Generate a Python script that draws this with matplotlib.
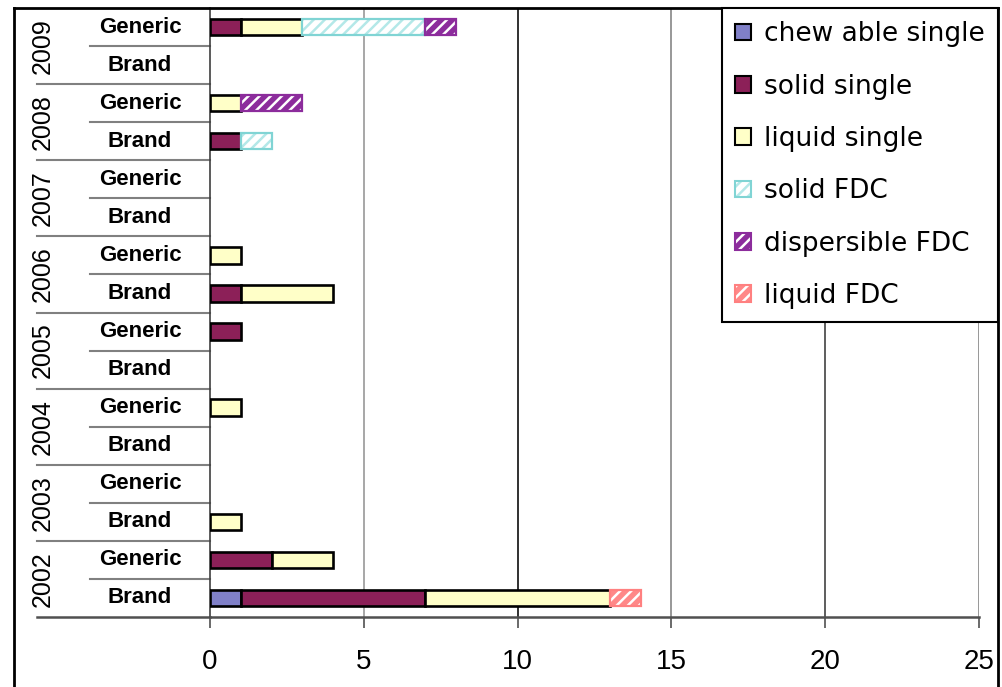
import numpy as np
import matplotlib.pyplot as plt
from matplotlib.patches import Patch
from matplotlib.lines import Line2D

plt.rcParams['font.family'] = ['Liberation Sans', 'DejaVu Sans']
plt.rcParams['hatch.linewidth'] = 1.8

# data, rows from bottom to top: 2002 Brand, 2002 Generic, 2003 Brand, ...
years = ['2002', '2003', '2004', '2005', '2006', '2007', '2008', '2009']
groups = ['Brand', 'Generic']
labels = ['chew able single', 'solid single', 'liquid single',
          'solid FDC', 'dispersible FDC', 'liquid FDC']

chewable = [1, 0, 0, 0, 0, 0, 0, 0, 0, 0, 0, 0, 0, 0, 0, 0]
solid_single = [6, 2, 0, 0, 0, 0, 0, 1, 1, 0, 0, 0, 1, 0, 0, 1]
liquid_single = [6, 2, 1, 0, 0, 1, 0, 0, 3, 1, 0, 0, 0, 1, 0, 2]
solid_fdc = [0, 0, 0, 0, 0, 0, 0, 0, 0, 0, 0, 0, 1, 0, 0, 4]
dispersible_fdc = [0, 0, 0, 0, 0, 0, 0, 0, 0, 0, 0, 0, 0, 2, 0, 1]
liquid_fdc = [1, 0, 0, 0, 0, 0, 0, 0, 0, 0, 0, 0, 0, 0, 0, 0]

# styles: (face, hatch colour / None, border)
styles = [
    ('#8080c8', None, 'black'),
    ('#8c2058', None, 'black'),
    ('#ffffc8', None, 'black'),
    ('white', '#b4e8e8', '#80d4d4'),
    ('#8c2c9c', 'white', '#8c2c9c'),
    ('#ff8888', 'white', '#ff8080'),
]
all_series = [chewable, solid_single, liquid_single, solid_fdc, dispersible_fdc, liquid_fdc]

fig = plt.figure(figsize=(10.03, 6.87), dpi=100)
ax = fig.add_axes([210/1003, 1 - 617/687, (979 - 210)/1003, (617 - 8)/687])

ypos = np.arange(16)
lefts = np.zeros(16)
bh = 0.43
for vals, (fc, hc, ec) in zip(all_series, styles):
    vals = np.array(vals, dtype=float)
    m = vals > 0
    if hc is None:
        ax.barh(ypos[m], vals[m], left=lefts[m], height=bh, color=fc,
                edgecolor=ec, linewidth=1.9, zorder=3)
    else:
        ax.barh(ypos[m], vals[m], left=lefts[m], height=bh, color=fc,
                edgecolor=hc, hatch='///', linewidth=0, zorder=3)
        ax.barh(ypos[m], vals[m], left=lefts[m], height=bh, color='none',
                edgecolor=ec, linewidth=1.6, zorder=4)
    lefts = lefts + vals

ax.set_xlim(0, 25)
ax.set_ylim(-0.5, 15.5)

# vertical grid lines
grid_cols = {5: '#a0a0a0', 10: '#202020', 15: '#909090', 20: '#505050', 25: '#909090'}
for gx, gc in grid_cols.items():
    ax.axvline(gx, color=gc, lw=1.3, zorder=1)

for s in ['top', 'right']:
    ax.spines[s].set_visible(False)
ax.spines['left'].set_color('#404040')
ax.spines['left'].set_linewidth(1.2)
ax.spines['bottom'].set_color('#505050')
ax.spines['bottom'].set_linewidth(1.8)

ax.set_xticks([0, 5, 10, 15, 20, 25])
ax.tick_params(axis='x', direction='out', length=8, width=1.2, colors='#505050',
               labelcolor='black', labelsize=20, pad=15)
ax.set_yticks([])

# two level category labels
trans = ax.get_yaxis_transform()
for i in range(16):
    ax.text(-0.091, i, groups[i % 2], transform=trans, ha='center', va='center',
            fontsize=16, fontweight='bold')
for j, yr in enumerate(years):
    ax.text(-0.217, 2*j + 0.5, yr, transform=trans, ha='center', va='center',
            fontsize=18, rotation=90)
for k in range(15):
    yl = k + 0.5
    x0 = -0.156 if k % 2 == 0 else -0.225
    ax.plot([x0, 0], [yl, yl], transform=trans, color='#808080', lw=1.5, clip_on=False)
ax.plot([-0.225, 0], [-0.5, -0.5], transform=trans, color='#505050', lw=1.8, clip_on=False)

# legend
handles = []
for fc, hc, ec in styles:
    if hc is None:
        handles.append(Patch(facecolor=fc, edgecolor=ec, linewidth=1.5))
    else:
        handles.append((Patch(facecolor=fc, edgecolor=hc, hatch='///', linewidth=0),
                        Patch(facecolor='none', edgecolor=ec, linewidth=1.5)))
leg = fig.legend(handles, labels, loc='upper right',
                 bbox_to_anchor=(998/1003, 1 - 8/687), bbox_transform=fig.transFigure,
                 borderaxespad=0, fancybox=False, edgecolor='black', framealpha=1,
                 prop={'family': 'DejaVu Sans', 'size': 19},
                 handlelength=0.6, handleheight=0.6, handletextpad=0.5,
                 labelspacing=1.0, borderpad=0.5)
leg.get_frame().set_linewidth(1.5)

# outer frame
fig.add_artist(Line2D([14/1003, 998/1003], [1 - 8/687, 1 - 8/687], color='black', lw=2))
fig.add_artist(Line2D([14/1003, 14/1003], [0, 1 - 8/687], color='black', lw=2))
fig.add_artist(Line2D([998/1003, 998/1003], [0, 1 - 8/687], color='black', lw=2))

fig.savefig('out.png', dpi=100)
